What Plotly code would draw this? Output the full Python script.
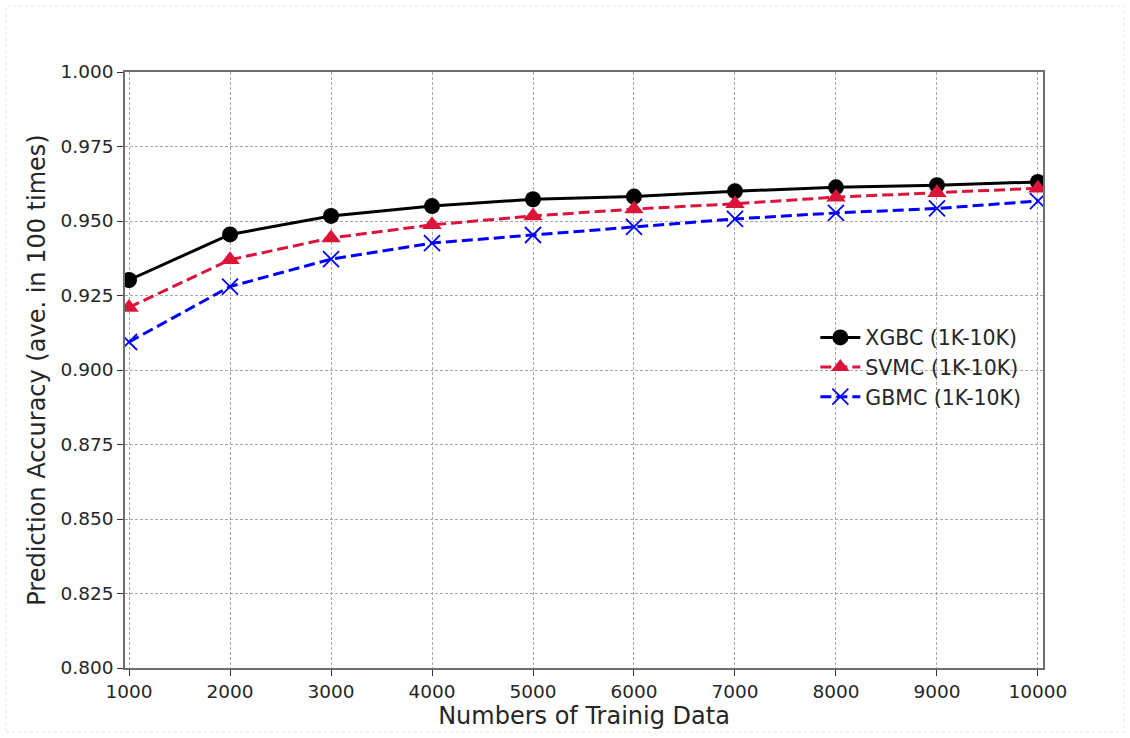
import plotly.graph_objects as go

# Training set sizes
train_sizes = [1000, 2000, 3000, 4000, 5000, 6000, 7000, 8000, 9000, 10000]

# Mean prediction accuracy over 100 runs
xgbc_acc = [0.9302, 0.9455, 0.9517, 0.9550, 0.9573, 0.9582, 0.9600, 0.9613, 0.9620, 0.9631]
svmc_acc = [0.9210, 0.9370, 0.9443, 0.9487, 0.9517, 0.9540, 0.9558, 0.9580, 0.9595, 0.9610]
gbmc_acc = [0.9094, 0.9280, 0.9372, 0.9426, 0.9453, 0.9480, 0.9507, 0.9527, 0.9542, 0.9567]

series_names = ["XGBC (1K-10K)", "SVMC (1K-10K)", "GBMC (1K-10K)"]

y_ticks = [0.800, 0.825, 0.850, 0.875, 0.900, 0.925, 0.950, 0.975, 1.000]

FONT = "DejaVu Sans"
TEXT = "#262626"

fig = go.Figure()

fig.add_trace(go.Scatter(
    x=train_sizes, y=xgbc_acc, name=series_names[0], mode="lines+markers",
    line=dict(color="black", width=3, dash="solid"),
    marker=dict(symbol="circle", size=16, color="black"),
))
fig.add_trace(go.Scatter(
    x=train_sizes, y=svmc_acc, name=series_names[1], mode="lines+markers",
    line=dict(color="#dc143c", width=3, dash="11px,5px"),
    marker=dict(symbol="triangle-up", size=17, color="#dc143c"),
))
fig.add_trace(go.Scatter(
    x=train_sizes, y=gbmc_acc, name=series_names[2], mode="lines+markers",
    line=dict(color="#0000ff", width=3, dash="11px,5px"),
    marker=dict(symbol="x-thin", size=16, color="#0000ff",
                line=dict(color="#0000ff", width=1.8)),
))

axis_common = dict(
    showline=True, linecolor="#6e6e6e", linewidth=1.5, mirror=True,
    showgrid=True, gridcolor="#a8a8a8", gridwidth=1, griddash="3px,2px",
    ticks="outside", ticklen=6, tickwidth=1, tickcolor="#333333",
    tickfont=dict(family=FONT, size=18.5, color=TEXT),
    zeroline=False,
)

fig.update_xaxes(
    range=[960, 10050], tickvals=train_sizes,
    ticktext=[str(v) for v in train_sizes],
    title=dict(text="Numbers of Trainig Data",
               font=dict(family=FONT, size=24, color=TEXT), standoff=1),
    **axis_common,
)
fig.update_yaxes(
    range=[0.8, 1.0], tickvals=y_ticks, ticktext=[f"{v:.3f}" for v in y_ticks],
    title=dict(text="Prediction Accuracy (ave. in 100 times)",
               font=dict(family=FONT, size=24, color=TEXT), standoff=8),
    **axis_common,
)

fig.update_layout(
    width=1130, height=738,
    margin=dict(l=125, r=87, t=72, b=70),
    paper_bgcolor="white", plot_bgcolor="white",
    font=dict(family=FONT, color=TEXT),
    legend=dict(
        x=0.752, y=0.588, xanchor="left", yanchor="top",
        bgcolor="rgba(255,255,255,0)", borderwidth=0,
        font=dict(family=FONT, size=20.5, color=TEXT),
        itemwidth=40, tracegroupgap=2,
    ),
    shapes=[dict(
        type="rect", xref="paper", yref="paper",
        x0=(6 - 125) / 918, x1=(1124 - 125) / 918,
        y0=(668 - 732) / 596, y1=(668 - 6) / 596,
        line=dict(color="#e6e6e6", width=1, dash="dot"), layer="below",
    )],
)

fig.write_html("out.html")
